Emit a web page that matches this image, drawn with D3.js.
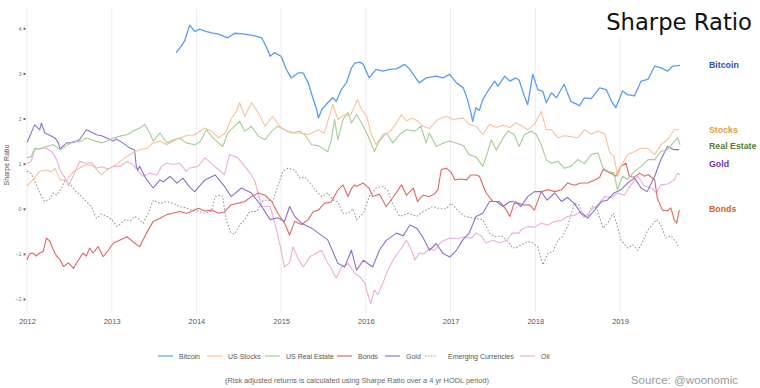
<!DOCTYPE html>
<html><head><meta charset="utf-8">
<script src="https://cdn.jsdelivr.net/npm/d3@7"></script>
<style>body{margin:0;background:#fff}svg{display:block}</style>
</head><body>
<svg id="c" width="760" height="388"></svg>
<script>
const years = [2012,2013,2014,2015,2016,2017,2018,2019];
const yTicks = [-2,-1,0,1,2,3,4];
const seriesNames = ["Bitcoin","US Stocks","US Real Estate","Bonds","Gold","Emerging Currencies","Oil"];

const bitcoin = [[2013.76,3.46],[2013.82,3.6],[2013.86,3.72],[2013.92,4.07],[2013.98,3.93],[2014.04,3.98],[2014.10,3.94],[2014.18,3.9],[2014.26,3.87],[2014.37,3.79],[2014.45,3.89],[2014.57,3.87],[2014.69,3.83],[2014.77,3.79],[2014.83,3.57],[2014.87,3.38],[2014.92,3.46],[2015.00,3.38],[2015.06,3.09],[2015.12,2.9],[2015.20,3.01],[2015.26,3.01],[2015.32,2.79],[2015.38,2.42],[2015.42,2.2],[2015.44,2.01],[2015.48,2.2],[2015.55,2.35],[2015.61,2.46],[2015.65,2.38],[2015.71,2.64],[2015.77,2.79],[2015.83,3.12],[2015.87,3.23],[2015.93,3.25],[2015.97,3.2],[2016.04,2.9],[2016.12,3.09],[2016.20,3.05],[2016.28,3.09],[2016.36,3.1],[2016.46,3.2],[2016.52,3.09],[2016.60,2.87],[2016.63,2.79],[2016.71,2.9],[2016.83,2.94],[2016.91,2.9],[2016.99,2.98],[2017.07,2.79],[2017.15,2.68],[2017.20,2.42],[2017.24,2.13],[2017.26,1.94],[2017.30,2.24],[2017.34,2.18],[2017.38,2.42],[2017.44,2.61],[2017.52,2.83],[2017.56,2.72],[2017.64,2.94],[2017.70,2.83],[2017.77,2.9],[2017.81,2.85],[2017.87,2.5],[2017.91,2.31],[2017.97,2.98],[2018.03,2.64],[2018.09,2.6],[2018.13,2.35],[2018.19,2.57],[2018.25,2.46],[2018.34,2.76],[2018.42,2.38],[2018.50,2.31],[2018.52,2.28],[2018.58,2.46],[2018.66,2.44],[2018.76,2.68],[2018.84,2.64],[2018.90,2.38],[2018.95,2.24],[2019.03,2.61],[2019.09,2.53],[2019.17,2.5],[2019.25,2.83],[2019.33,2.87],[2019.41,3.16],[2019.48,3.13],[2019.56,3.05],[2019.62,3.16],[2019.71,3.18]];

const usStocks = [[2012.00,0.51],[2012.07,0.64],[2012.15,0.83],[2012.23,0.86],[2012.29,0.82],[2012.33,0.9],[2012.39,0.64],[2012.47,0.64],[2012.55,0.83],[2012.62,0.9],[2012.70,0.98],[2012.78,0.95],[2012.88,0.75],[2012.94,0.86],[2013.02,0.94],[2013.10,1.05],[2013.18,1.16],[2013.25,1.24],[2013.33,1.31],[2013.41,1.34],[2013.49,1.46],[2013.57,1.5],[2013.65,1.42],[2013.73,1.5],[2013.80,1.57],[2013.88,1.62],[2013.98,1.64],[2014.10,1.79],[2014.18,1.72],[2014.26,1.57],[2014.34,1.68],[2014.41,1.98],[2014.47,2.16],[2014.51,2.35],[2014.57,2.05],[2014.65,2.35],[2014.73,2.13],[2014.81,1.83],[2014.90,2.05],[2015.00,1.79],[2015.08,1.72],[2015.16,1.68],[2015.24,1.68],[2015.32,1.64],[2015.44,1.75],[2015.51,1.68],[2015.61,2.31],[2015.67,1.98],[2015.75,2.09],[2015.81,2.05],[2015.85,2.2],[2015.90,2.42],[2015.95,2.2],[2016.01,2.05],[2016.06,1.68],[2016.12,1.42],[2016.20,1.64],[2016.28,1.7],[2016.36,1.9],[2016.42,2.09],[2016.48,1.95],[2016.54,2.01],[2016.61,1.95],[2016.67,1.83],[2016.75,1.78],[2016.85,1.98],[2016.95,2.05],[2017.03,1.98],[2017.15,2.01],[2017.22,1.87],[2017.30,1.83],[2017.38,1.64],[2017.46,1.87],[2017.54,1.8],[2017.62,1.85],[2017.70,1.8],[2017.77,1.9],[2017.83,1.85],[2017.91,1.75],[2017.99,1.87],[2018.07,2.16],[2018.13,1.75],[2018.19,1.75],[2018.27,1.57],[2018.34,1.62],[2018.42,1.6],[2018.50,1.57],[2018.58,1.75],[2018.66,1.66],[2018.74,1.72],[2018.82,1.66],[2018.88,1.24],[2018.93,1.16],[2018.97,0.72],[2019.01,0.94],[2019.09,1.2],[2019.17,1.27],[2019.25,1.34],[2019.33,1.34],[2019.41,1.2],[2019.48,1.42],[2019.56,1.53],[2019.64,1.75],[2019.70,1.75]];

const usRealEstate = [[2012.00,1.13],[2012.05,1.15],[2012.09,1.34],[2012.15,1.32],[2012.23,1.38],[2012.31,1.42],[2012.39,1.31],[2012.47,1.4],[2012.55,1.5],[2012.62,1.48],[2012.70,1.57],[2012.78,1.52],[2012.88,1.46],[2012.94,1.5],[2013.02,1.57],[2013.10,1.61],[2013.18,1.64],[2013.25,1.72],[2013.33,1.79],[2013.39,1.87],[2013.45,1.68],[2013.49,1.5],[2013.57,1.68],[2013.65,1.46],[2013.73,1.53],[2013.80,1.57],[2013.88,1.46],[2013.98,1.42],[2014.04,1.48],[2014.12,1.75],[2014.18,1.6],[2014.26,1.46],[2014.31,1.38],[2014.37,1.68],[2014.45,1.83],[2014.51,1.94],[2014.57,1.72],[2014.65,1.83],[2014.73,1.61],[2014.81,1.53],[2014.89,1.72],[2014.96,1.83],[2015.04,1.75],[2015.12,1.68],[2015.22,1.72],[2015.28,1.64],[2015.36,1.42],[2015.44,1.4],[2015.51,1.31],[2015.55,1.27],[2015.59,1.5],[2015.63,1.98],[2015.67,1.53],[2015.73,1.98],[2015.79,2.13],[2015.83,1.9],[2015.89,2.09],[2015.95,1.9],[2016.02,1.64],[2016.10,1.27],[2016.16,1.5],[2016.24,1.68],[2016.32,1.46],[2016.40,1.65],[2016.48,1.75],[2016.58,1.72],[2016.65,1.83],[2016.71,1.46],[2016.75,1.68],[2016.83,1.38],[2016.91,1.45],[2016.99,1.5],[2017.07,1.45],[2017.15,1.4],[2017.22,1.2],[2017.30,1.15],[2017.38,0.94],[2017.44,1.27],[2017.48,1.53],[2017.54,1.3],[2017.62,1.57],[2017.68,1.72],[2017.75,1.65],[2017.81,1.38],[2017.87,1.64],[2017.95,1.72],[2018.01,1.65],[2018.07,1.42],[2018.13,1.09],[2018.19,1.01],[2018.27,1.05],[2018.34,0.9],[2018.42,0.94],[2018.50,1.09],[2018.58,1.0],[2018.66,1.2],[2018.74,1.24],[2018.80,0.9],[2018.86,0.83],[2018.93,0.79],[2018.97,0.42],[2019.03,0.72],[2019.09,0.65],[2019.17,0.83],[2019.25,0.94],[2019.33,1.09],[2019.41,1.09],[2019.48,1.27],[2019.56,1.31],[2019.62,1.45],[2019.68,1.57],[2019.71,1.42]];

const bonds = [[2012.00,-1.13],[2012.03,-1.0],[2012.07,-0.98],[2012.11,-1.05],[2012.15,-0.98],[2012.19,-0.95],[2012.23,-0.65],[2012.27,-0.72],[2012.31,-0.91],[2012.35,-1.05],[2012.39,-1.13],[2012.43,-1.28],[2012.49,-1.2],[2012.55,-1.32],[2012.58,-1.22],[2012.66,-0.98],[2012.70,-1.05],[2012.74,-0.87],[2012.78,-0.98],[2012.84,-0.84],[2012.90,-1.06],[2012.96,-0.92],[2013.02,-0.76],[2013.10,-0.69],[2013.18,-0.62],[2013.25,-0.73],[2013.33,-0.84],[2013.41,-0.54],[2013.49,-0.28],[2013.57,-0.21],[2013.65,-0.13],[2013.72,-0.1],[2013.80,-0.06],[2013.88,-0.1],[2013.94,-0.06],[2014.02,0.01],[2014.10,-0.05],[2014.18,-0.03],[2014.26,-0.1],[2014.33,-0.07],[2014.41,0.09],[2014.49,0.12],[2014.57,0.16],[2014.65,0.27],[2014.73,0.35],[2014.81,0.3],[2014.89,0.16],[2014.96,-0.1],[2015.04,-0.32],[2015.10,-0.58],[2015.16,-0.28],[2015.24,-0.35],[2015.32,-0.24],[2015.38,-0.06],[2015.44,-0.03],[2015.51,0.12],[2015.59,0.15],[2015.67,0.42],[2015.73,0.53],[2015.79,0.27],[2015.83,0.45],[2015.87,0.53],[2015.89,0.5],[2015.97,0.57],[2016.04,0.45],[2016.08,0.27],[2016.16,0.32],[2016.24,0.05],[2016.32,0.25],[2016.42,0.53],[2016.48,0.3],[2016.56,0.46],[2016.61,0.16],[2016.67,0.3],[2016.75,0.27],[2016.81,0.33],[2016.85,0.42],[2016.89,0.87],[2016.95,0.9],[2017.01,0.8],[2017.05,0.64],[2017.12,0.66],[2017.19,0.64],[2017.24,0.75],[2017.30,0.75],[2017.34,0.72],[2017.42,0.35],[2017.50,0.16],[2017.58,0.16],[2017.66,-0.03],[2017.70,-0.17],[2017.75,0.12],[2017.81,0.12],[2017.87,0.08],[2017.93,0.09],[2017.99,-0.03],[2018.07,0.38],[2018.15,0.42],[2018.23,0.38],[2018.31,0.42],[2018.38,0.57],[2018.46,0.52],[2018.54,0.57],[2018.62,0.57],[2018.70,0.64],[2018.76,0.7],[2018.80,0.87],[2018.88,0.8],[2018.95,0.72],[2019.01,0.94],[2019.07,1.01],[2019.11,0.72],[2019.17,0.7],[2019.23,0.79],[2019.29,0.72],[2019.33,0.76],[2019.41,0.64],[2019.44,0.24],[2019.50,-0.03],[2019.56,-0.05],[2019.60,0.02],[2019.64,-0.24],[2019.67,-0.32],[2019.70,-0.03]];

const gold = [[2012.00,1.47],[2012.09,1.86],[2012.15,1.75],[2012.17,1.9],[2012.21,1.68],[2012.28,1.62],[2012.33,1.57],[2012.37,1.46],[2012.39,1.32],[2012.43,1.40],[2012.47,1.46],[2012.55,1.47],[2012.62,1.53],[2012.70,1.75],[2012.76,1.70],[2012.82,1.64],[2012.88,1.62],[2012.94,1.57],[2013.02,1.5],[2013.05,1.55],[2013.13,1.46],[2013.21,1.35],[2013.27,1.3],[2013.29,0.94],[2013.31,0.86],[2013.33,0.94],[2013.37,0.79],[2013.41,0.65],[2013.49,0.46],[2013.57,0.64],[2013.61,0.60],[2013.69,0.72],[2013.77,0.57],[2013.84,0.68],[2013.92,0.48],[2013.98,0.38],[2014.10,0.64],[2014.22,0.75],[2014.33,0.5],[2014.41,0.27],[2014.53,0.46],[2014.65,0.35],[2014.77,0.05],[2014.87,-0.24],[2014.96,-0.2],[2015.04,-0.28],[2015.10,0.05],[2015.16,-0.17],[2015.24,-0.32],[2015.36,-0.43],[2015.44,-0.54],[2015.55,-0.69],[2015.67,-1.21],[2015.75,-1.29],[2015.83,-0.92],[2015.89,-1.36],[2015.97,-1.14],[2016.08,-1.29],[2016.16,-0.92],[2016.24,-0.7],[2016.36,-0.54],[2016.44,-0.6],[2016.52,-0.36],[2016.60,-0.43],[2016.67,-0.62],[2016.75,-0.92],[2016.83,-0.77],[2016.91,-0.99],[2016.99,-1.07],[2017.07,-0.92],[2017.14,-0.7],[2017.22,-0.54],[2017.30,-0.17],[2017.38,-0.1],[2017.46,0.16],[2017.54,0.16],[2017.62,0.05],[2017.70,0.16],[2017.77,0.15],[2017.83,0.05],[2017.91,0.27],[2017.99,0.38],[2018.07,0.38],[2018.14,0.19],[2018.23,0.35],[2018.31,0.16],[2018.38,0.25],[2018.46,0.12],[2018.54,-0.1],[2018.62,-0.2],[2018.70,-0.03],[2018.78,0.16],[2018.85,0.19],[2018.93,0.35],[2019.01,0.42],[2019.09,0.57],[2019.17,0.68],[2019.25,0.46],[2019.32,0.38],[2019.41,0.72],[2019.48,1.08],[2019.56,1.38],[2019.64,1.31],[2019.70,1.31]];

const emergingCurrencies = [[2012.00,0.83],[2012.05,0.78],[2012.11,0.53],[2012.17,0.27],[2012.21,0.16],[2012.27,0.22],[2012.31,0.35],[2012.35,0.3],[2012.41,0.46],[2012.45,0.64],[2012.51,0.55],[2012.58,0.38],[2012.64,0.28],[2012.70,0.16],[2012.76,0.05],[2012.82,-0.21],[2012.88,-0.12],[2012.94,-0.16],[2013.00,-0.24],[2013.06,-0.39],[2013.10,-0.34],[2013.16,-0.24],[2013.22,-0.27],[2013.27,-0.17],[2013.31,-0.22],[2013.37,-0.32],[2013.43,-0.1],[2013.49,0.19],[2013.57,0.12],[2013.65,0.16],[2013.73,0.12],[2013.80,0.05],[2013.88,0.02],[2013.94,-0.03],[2014.02,-0.05],[2014.10,-0.1],[2014.18,-0.05],[2014.22,0.27],[2014.28,0.31],[2014.31,0.27],[2014.35,-0.24],[2014.41,-0.54],[2014.45,-0.56],[2014.51,-0.36],[2014.57,-0.24],[2014.63,-0.06],[2014.71,-0.06],[2014.79,0.19],[2014.85,0.19],[2014.90,0.16],[2014.96,0.5],[2015.02,0.83],[2015.08,0.9],[2015.16,0.86],[2015.22,0.68],[2015.28,0.7],[2015.34,0.57],[2015.42,0.38],[2015.48,0.27],[2015.55,0.35],[2015.61,0.2],[2015.67,0.15],[2015.73,-0.1],[2015.79,-0.1],[2015.85,0.0],[2015.89,-0.24],[2015.97,-0.1],[2016.04,0.27],[2016.12,0.46],[2016.20,0.5],[2016.26,0.4],[2016.32,0.09],[2016.40,-0.17],[2016.50,-0.1],[2016.60,-0.17],[2016.69,-0.05],[2016.79,0.05],[2016.87,0.0],[2016.95,0.0],[2017.01,0.12],[2017.09,-0.05],[2017.17,-0.17],[2017.25,-0.2],[2017.32,-0.22],[2017.38,-0.24],[2017.46,-0.54],[2017.52,-0.62],[2017.60,-0.6],[2017.68,-0.73],[2017.73,-0.87],[2017.79,-0.85],[2017.83,-0.8],[2017.91,-0.73],[2017.97,-0.75],[2018.03,-0.85],[2018.09,-1.24],[2018.15,-0.98],[2018.21,-0.95],[2018.27,-0.69],[2018.32,-0.62],[2018.38,-0.39],[2018.46,0.12],[2018.52,0.08],[2018.56,-0.17],[2018.62,-0.2],[2018.66,0.05],[2018.72,0.03],[2018.80,-0.43],[2018.86,-0.3],[2018.92,-0.1],[2018.97,-0.39],[2019.01,-0.69],[2019.09,-0.87],[2019.15,-0.8],[2019.21,-0.92],[2019.25,-0.8],[2019.33,-0.47],[2019.43,-0.24],[2019.48,-0.35],[2019.54,-0.65],[2019.60,-0.6],[2019.66,-0.73],[2019.70,-0.87]];

const oil = [[2012.00,1.01],[2012.05,1.05],[2012.09,1.31],[2012.15,1.34],[2012.23,1.34],[2012.29,1.27],[2012.35,1.09],[2012.39,0.86],[2012.45,0.68],[2012.49,0.5],[2012.55,0.75],[2012.62,1.05],[2012.70,1.01],[2012.76,1.02],[2012.82,0.9],[2012.88,0.93],[2012.96,0.88],[2013.02,0.94],[2013.10,0.94],[2013.18,1.05],[2013.25,0.98],[2013.31,0.83],[2013.37,0.72],[2013.45,0.79],[2013.53,0.75],[2013.59,0.94],[2013.65,1.01],[2013.73,0.98],[2013.80,1.01],[2013.88,0.83],[2013.92,0.9],[2014.02,0.94],[2014.10,1.13],[2014.18,1.0],[2014.26,0.87],[2014.33,0.75],[2014.39,1.2],[2014.49,1.13],[2014.57,0.94],[2014.65,0.75],[2014.69,0.61],[2014.77,0.05],[2014.87,0.05],[2014.94,-0.43],[2015.00,-0.92],[2015.04,-1.29],[2015.10,-1.2],[2015.14,-0.84],[2015.20,-1.1],[2015.26,-1.29],[2015.34,-1.06],[2015.42,-0.98],[2015.48,-0.92],[2015.53,-1.14],[2015.59,-1.32],[2015.65,-1.54],[2015.71,-1.3],[2015.79,-1.21],[2015.87,-1.43],[2015.93,-1.51],[2015.99,-1.65],[2016.02,-1.88],[2016.06,-2.1],[2016.10,-1.8],[2016.14,-1.9],[2016.20,-1.65],[2016.26,-1.36],[2016.32,-1.14],[2016.40,-0.92],[2016.48,-0.7],[2016.54,-0.92],[2016.58,-1.14],[2016.63,-0.98],[2016.69,-1.0],[2016.75,-0.87],[2016.81,-0.93],[2016.89,-0.73],[2016.99,-0.65],[2017.09,-0.66],[2017.17,-0.62],[2017.25,-0.65],[2017.30,-0.54],[2017.36,-0.6],[2017.42,-0.76],[2017.50,-0.7],[2017.58,-0.76],[2017.66,-0.7],[2017.73,-0.54],[2017.81,-0.54],[2017.83,-0.47],[2017.91,-0.39],[2017.99,-0.41],[2018.07,-0.32],[2018.15,-0.36],[2018.23,-0.28],[2018.31,-0.26],[2018.38,-0.17],[2018.46,-0.15],[2018.54,-0.06],[2018.60,-0.17],[2018.66,-0.03],[2018.74,0.09],[2018.82,0.27],[2018.90,0.25],[2018.97,0.35],[2019.05,0.3],[2019.13,0.53],[2019.21,0.72],[2019.29,0.5],[2019.37,0.46],[2019.43,0.35],[2019.48,0.53],[2019.56,0.55],[2019.64,0.64],[2019.68,0.79],[2019.71,0.75]];

const endLabels = ["Bitcoin","Stocks","Real Estate","Gold","Bonds"];
const endLabelValues = [3.18, 1.74, 1.39, 0.99, 0.0];

const lineColors = ["#5b9cf0","#f7c39b","#a5cd96","#dc6a63","#8b72cc","#9a9a9a","#ecaedb"];
const labelColors = ["#2a54b4","#dca03a","#527f33","#7434ac","#d35f2c"];

const svg = d3.select("#c");
const x = d3.scaleLinear().domain([2012, 2019]).range([27, 620]);
const y = d3.scaleLinear().domain([-2, 4]).range([299, 28.3]);

// vertical gridlines
svg.append("g").selectAll("line").data(years).join("line")
  .attr("x1", d => x(d)).attr("x2", d => x(d))
  .attr("y1", 8).attr("y2", 313)
  .attr("stroke", "#ececec").attr("stroke-width", 1);

// x axis labels
const xAxis = d3.axisBottom(x).tickValues(years).tickSize(0).tickFormat(d3.format("d"));
const gx = svg.append("g").attr("transform", "translate(0,316)").call(xAxis);
gx.select(".domain").remove();
gx.selectAll("text").attr("font-family", "Liberation Sans, Arial, sans-serif")
  .attr("font-size", 7.5).attr("fill", "#555");

// y axis labels
const yAxis = d3.axisLeft(y).tickValues(yTicks).tickSize(0).tickPadding(0)
  .tickFormat(d => d < 0 ? "\u2212" + Math.abs(d) : d);
const gy = svg.append("g").attr("transform", "translate(22,0)").call(yAxis);
gy.select(".domain").remove();
gy.selectAll("text").attr("font-family", "Liberation Sans, Arial, sans-serif")
  .attr("font-size", 5.5).attr("fill", "#777").attr("x", -0.5);
gy.selectAll(".tick").append("rect").attr("x", 1.5).attr("y", -1).attr("width", 2).attr("height", 2).attr("fill", "#666");

// y title
svg.append("text").attr("transform", "translate(8.5,165) rotate(-90)")
  .attr("text-anchor", "middle").attr("font-family", "Liberation Sans, Arial, sans-serif")
  .attr("font-size", 7).attr("fill", "#555").text("Sharpe Ratio");

const line = d3.line().x(d => x(d[0])).y(d => y(d[1]));
const allSeries = [bitcoin, usStocks, usRealEstate, bonds, gold, emergingCurrencies, oil];
const drawOrder = [5, 6, 3, 4, 2, 1, 0];
drawOrder.forEach(i => {
  svg.append("path").datum(allSeries[i]).attr("d", line)
    .attr("fill", "none").attr("stroke", lineColors[i])
    .attr("stroke-width", i === 0 ? 1.3 : 1.1)
    .attr("stroke-linejoin", "round")
    .attr("stroke-dasharray", i === 5 ? "1.6,1.8" : null);
});

// title with white backing
svg.append("rect").attr("x", 596).attr("y", 0).attr("width", 164).attr("height", 38).attr("fill", "#fff");
svg.append("text").attr("x", 752).attr("y", 30).attr("text-anchor", "end")
  .attr("font-family", "DejaVu Sans, sans-serif").attr("font-size", 22.7).attr("fill", "#111")
  .text("Sharpe Ratio");

// end labels
svg.append("g").selectAll("text").data(endLabels).join("text")
  .attr("x", 709).attr("y", (d, i) => y(endLabelValues[i]) + 3)
  .attr("font-family", "Liberation Sans, Arial, sans-serif").attr("font-weight", "bold")
  .attr("font-size", 8.8).attr("fill", (d, i) => labelColors[i]).text(d => d);

// legend
const legendX = [158, 207, 265, 337, 385, 425, 520];
const lg = svg.append("g");
seriesNames.forEach((n, i) => {
  const g = lg.append("g").attr("transform", `translate(${legendX[i]},356)`);
  g.append("line").attr("x1", 0).attr("x2", i === 5 ? 11 : 15).attr("y1", 0).attr("y2", 0)
    .attr("stroke", lineColors[i]).attr("stroke-width", 1.2)
    .attr("stroke-dasharray", i === 5 ? "1.4,1.6" : null);
  g.append("text").attr("x", i === 5 ? 23 : 21).attr("y", 2.5)
    .attr("font-family", "Liberation Sans, Arial, sans-serif").attr("font-size", 7)
    .attr("fill", "#555").text(n);
});

svg.append("text").attr("x", 357).attr("y", 382.5).attr("text-anchor", "middle")
  .attr("font-family", "Liberation Sans, Arial, sans-serif").attr("font-size", 7.4)
  .attr("fill", "#666").text("(Risk adjusted returns is calculated using Sharpe Ratio over a 4 yr HODL period)");

svg.append("text").attr("x", 738).attr("y", 384).attr("text-anchor", "end")
  .attr("font-family", "Liberation Sans, Arial, sans-serif").attr("font-size", 11.6)
  .attr("fill", "#9a9a9a").text("Source: @woonomic");
</script>
</body></html>
